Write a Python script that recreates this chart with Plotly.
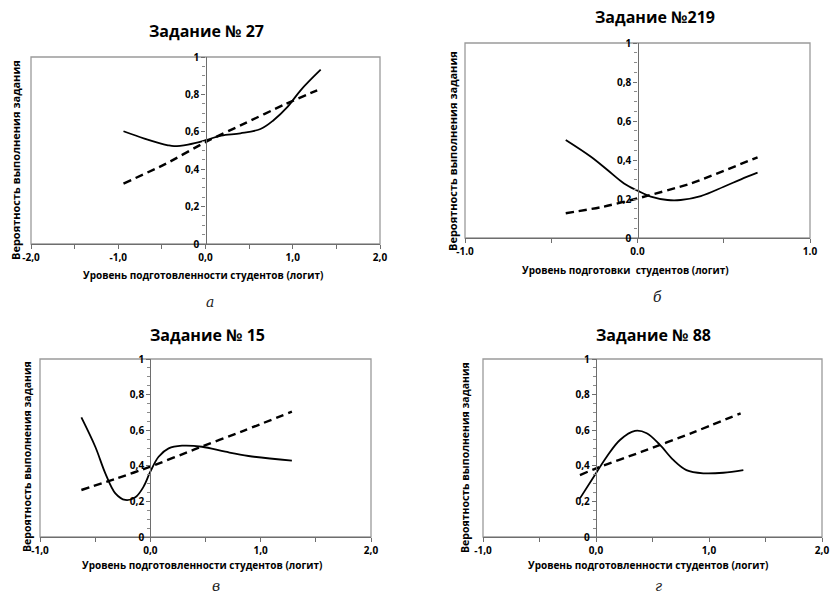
import plotly.graph_objects as go

# ---------------- data ----------------
# Panel а: Задание № 27
a_solid_x = [-0.94, -0.70, -0.43, -0.36, -0.20, 0.0, 0.18, 0.40, 0.63, 0.78, 0.94, 1.09, 1.32]
a_solid_y = [0.603, 0.564, 0.528, 0.523, 0.532, 0.555, 0.580, 0.592, 0.615, 0.662, 0.733, 0.822, 0.932]
a_dash_x = [-0.94, -0.45, 0.0, 0.45, 0.90, 1.28]
a_dash_y = [0.323, 0.43, 0.545, 0.645, 0.745, 0.822]

# Panel б: Задание №219
b_solid_x = [-0.416, -0.27, -0.174, -0.078, 0.0, 0.077, 0.174, 0.25, 0.367, 0.50, 0.60, 0.696]
b_solid_y = [0.503, 0.417, 0.349, 0.280, 0.243, 0.212, 0.195, 0.195, 0.215, 0.263, 0.301, 0.335]
b_dash_x = [-0.416, -0.20, 0.0, 0.31, 0.696]
b_dash_y = [0.127, 0.160, 0.203, 0.280, 0.414]

# Panel в: Задание № 15
c_solid_x = [-0.625, -0.499, -0.408, -0.317, -0.227, -0.136, -0.061, 0.0, 0.075, 0.166, 0.287, 0.468, 0.68, 0.89, 1.283]
c_solid_y = [0.672, 0.507, 0.358, 0.245, 0.208, 0.223, 0.283, 0.367, 0.451, 0.498, 0.513, 0.507, 0.479, 0.455, 0.429]
c_dash_x = [-0.625, -0.30, 0.0, 0.40, 0.85, 1.283]
c_dash_y = [0.264, 0.330, 0.395, 0.492, 0.598, 0.704]

# Panel г: Задание № 88
d_solid_x = [-0.142, 0.0, 0.095, 0.212, 0.345, 0.449, 0.566, 0.684, 0.80, 0.95, 1.127, 1.304]
d_solid_y = [0.217, 0.358, 0.451, 0.545, 0.596, 0.583, 0.517, 0.433, 0.376, 0.358, 0.361, 0.376]
d_dash_x = [-0.142, 0.0, 0.40, 0.85, 1.28]
d_dash_y = [0.348, 0.386, 0.478, 0.585, 0.695]

titles = ["Задание № 27", "Задание №219", "Задание № 15", "Задание № 88"]
captions = ["а", "б", "в", "г"]
x_titles = ["Уровень подготовленности студентов (логит)",
            "Уровень подготовки  студентов (логит)",
            "Уровень подготовленности студентов (логит)",
            "Уровень подготовленности студентов (логит)"]
y_title = "Вероятность выполнения задания"

a_xticks = [-2, -1, 0, 1, 2]
a_xlabels = ["-2,0", "-1,0", "0,0", "1,0", "2,0"]
b_xticks = [-1, 0, 1]
b_xlabels = ["-1.0", "0.0", "1.0"]
c_xticks = [-1, 0, 1, 2]
c_xlabels = ["-1,0", "0,0", "1,0", "2,0"]
y_ticks = [0, 0.2, 0.4, 0.6, 0.8, 1]
y_labels = ["0", "0,2", "0,4", "0,6", "0,8", "1"]

# ---------------- layout ----------------
W, H = 831, 594
FONT = "Open Sans"
AX = "#6e6e6e"

panels = [
    dict(sx=a_solid_x, sy=a_solid_y, dx=a_dash_x, dy=a_dash_y, rng=[-2, 2],
         tv=a_xticks, tt=a_xlabels, px=(31, 380), py=(57, 244),
         title=(206, 31), cap=(210, 302), xt=(203, 275), yt=(15, 160), yts=11),
    dict(sx=b_solid_x, sy=b_solid_y, dx=b_dash_x, dy=b_dash_y, rng=[-1, 1],
         tv=b_xticks, tt=b_xlabels, px=(465, 810), py=(43, 238),
         title=(655, 17), cap=(657, 297), xt=(625, 270), yt=(452, 151), yts=11),
    dict(sx=c_solid_x, sy=c_solid_y, dx=c_dash_x, dy=c_dash_y, rng=[-1, 2],
         tv=c_xticks, tt=c_xlabels, px=(40, 371), py=(359, 537),
         title=(207, 335), cap=(216, 586), xt=(202, 565), yt=(27, 457), yts=10.5),
    dict(sx=d_solid_x, sy=d_solid_y, dx=d_dash_x, dy=d_dash_y, rng=[-1, 2],
         tv=c_xticks, tt=c_xlabels, px=(483, 822), py=(359, 537),
         title=(653, 335), cap=(658, 586), xt=(648, 565), yt=(465, 457), yts=10.5),
]

fig = go.Figure()
layout = dict(width=W, height=H, margin=dict(l=0, r=0, t=0, b=0, autoexpand=False),
              paper_bgcolor="white", plot_bgcolor="white", showlegend=False,
              font=dict(family=FONT, color="black"))
annotations = []
shapes = []

for i, p in enumerate(panels, start=1):
    xa = "x" if i == 1 else f"x{i}"
    ya = "y" if i == 1 else f"y{i}"
    x0, x1 = p["px"][0] / W, p["px"][1] / W
    y0, y1 = 1 - p["py"][1] / H, 1 - p["py"][0] / H
    # position of the vertical axis at x = 0
    ypos = x0 + (0 - p["rng"][0]) / (p["rng"][1] - p["rng"][0]) * (x1 - x0)

    fig.add_trace(go.Scatter(x=p["sx"], y=p["sy"], mode="lines",
                             line=dict(color="black", width=1.8, shape="spline", smoothing=1.0),
                             xaxis=xa, yaxis=ya))
    fig.add_trace(go.Scatter(x=p["dx"], y=p["dy"], mode="lines",
                             line=dict(color="black", width=2.4, dash="8px,5px", shape="spline", smoothing=0.6),
                             xaxis=xa, yaxis=ya))

    layout["xaxis" + ("" if i == 1 else str(i))] = dict(
        domain=[x0, x1], range=p["rng"], anchor=ya, showgrid=False, zeroline=False,
        showline=True, linecolor=AX, linewidth=1.4,
        tickmode="array", tickvals=p["tv"], ticktext=p["tt"],
        ticks="outside", ticklen=4, tickcolor=AX,
        minor=dict(dtick=0.5, tick0=0, ticks="outside", ticklen=4, tickcolor=AX),
        tickfont=dict(family=FONT, size=10, weight="bold"), fixedrange=True)
    layout["yaxis" + ("" if i == 1 else str(i))] = dict(
        domain=[y0, y1], range=[0, 1], anchor="free", position=ypos,
        showgrid=False, zeroline=False, showline=True, linecolor=AX, linewidth=1.4,
        tickmode="array", tickvals=y_ticks, ticktext=y_labels,
        ticks="outside", ticklen=4, tickcolor=AX,
        minor=dict(dtick=0.05, tick0=0, ticks="outside", ticklen=3, tickcolor="#8a8a8a"),
        tickfont=dict(family=FONT, size=10, weight="bold"), fixedrange=True)

    shapes.append(dict(type="rect", xref=f"{xa} domain", yref=f"{ya} domain",
                       x0=0, x1=1, y0=0, y1=1, line=dict(color="#9a9a9a", width=1.3),
                       layer="below"))

    annotations.append(dict(text=titles[i - 1], x=p["title"][0] / W, y=1 - p["title"][1] / H,
                            xref="paper", yref="paper", showarrow=False,
                            font=dict(family=FONT, size=16, weight="bold"),
                            xanchor="center", yanchor="middle"))
    annotations.append(dict(text=x_titles[i - 1], x=p["xt"][0] / W, y=1 - p["xt"][1] / H,
                            xref="paper", yref="paper", showarrow=False,
                            font=dict(family=FONT, size=10, weight="bold"),
                            xanchor="center", yanchor="middle"))
    annotations.append(dict(text=y_title, x=p["yt"][0] / W, y=1 - p["yt"][1] / H,
                            xref="paper", yref="paper", showarrow=False, textangle=-90,
                            font=dict(family=FONT, size=p["yts"], weight="bold"),
                            xanchor="center", yanchor="middle"))
    annotations.append(dict(text="<i>" + captions[i - 1] + "</i>", x=p["cap"][0] / W,
                            y=1 - p["cap"][1] / H, xref="paper", yref="paper", showarrow=False,
                            font=dict(family="DejaVu Serif", size=14, color="#222"),
                            xanchor="center", yanchor="middle"))

layout["annotations"] = annotations
layout["shapes"] = shapes
fig.update_layout(**layout)
fig.write_html("out.html", config={"displayModeBar": False},
               post_script="document.body.style.margin='0px';document.body.style.padding='0px';")
